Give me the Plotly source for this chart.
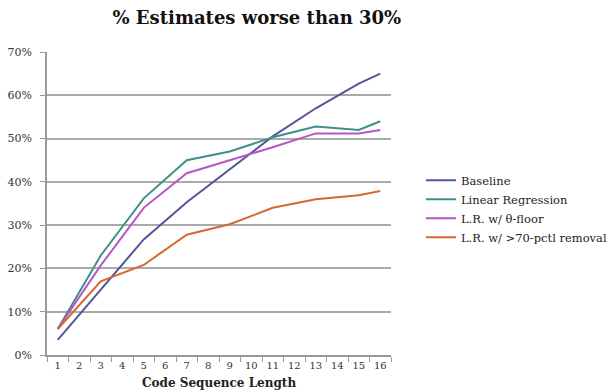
import plotly.graph_objects as go

categories = [str(i) for i in range(1, 17)]
x_points = ["1", "3", "5", "7", "9", "11", "13", "15", "16"]

baseline = [0.035, 0.152, 0.267, 0.353, 0.43, 0.505, 0.57, 0.627, 0.65]
linear_regression = [0.06, 0.23, 0.362, 0.45, 0.47, 0.503, 0.528, 0.52, 0.54]
theta_floor = [0.06, 0.207, 0.34, 0.42, 0.45, 0.48, 0.512, 0.512, 0.52]
pctl_removal = [0.06, 0.17, 0.208, 0.278, 0.302, 0.34, 0.36, 0.369, 0.379]

series = [
    ("Baseline", baseline, "#55559a"),
    ("Linear Regression", linear_regression, "#3f8f8a"),
    ("L.R. w/ θ-floor", theta_floor, "#b556c6"),
    ("L.R. w/ >70-pctl removal", pctl_removal, "#d3692f"),
]

FONT = "Georgia, 'DejaVu Serif', serif"

fig = go.Figure()
for name, vals, color in series:
    fig.add_trace(go.Scatter(x=x_points, y=vals, mode="lines", name=name,
                             line=dict(color=color, width=2)))

fig.update_layout(
    width=608, height=392,
    margin=dict(l=47, r=217, t=52, b=37, autoexpand=False),
    paper_bgcolor="white", plot_bgcolor="white",
    font=dict(family=FONT, size=11, color="#404040"),
    title=dict(text="<b>% Estimates worse than 30%</b>", x=0.61, xref="paper",
               xanchor="center", y=0.955, yanchor="middle",
               font=dict(family=FONT, size=18, color="#111111")),
    legend=dict(x=1.087, xanchor="left", y=0.625, yanchor="top",
                font=dict(family=FONT, size=11.5, color="#222222"),
                itemwidth=30, bgcolor="rgba(0,0,0,0)"),
    showlegend=True,
    annotations=[dict(text="<b>Code Sequence Length</b>", xref="paper", yref="paper",
                      x=0.5, y=-0.092, xanchor="center", yanchor="middle",
                      showarrow=False,
                      font=dict(family=FONT, size=12, color="#222222"))],
)
fig.update_xaxes(
    type="category", categoryorder="array", categoryarray=categories,
    range=[-0.5, 15.5], tickson="boundaries", ticks="outside", ticklen=5,
    tickcolor="#999999", showline=True, linecolor="#999999", linewidth=1.5,
    showgrid=False, tickangle=0, automargin=False,
    tickfont=dict(family=FONT, size=10, color="#333333"),
)
fig.update_yaxes(
    range=[0, 0.7], dtick=0.1, tickformat=".0%", ticks="outside", ticklen=5,
    tickcolor="#999999", showline=True, linecolor="#999999", linewidth=1.5,
    showgrid=True, gridcolor="#aaaaaa", gridwidth=1.5, zeroline=False,
    ticklabelstandoff=6, automargin=False,
    tickfont=dict(family=FONT, size=11, color="#333333"),
)

fig.write_html(
    "out.html",
    config={"displayModeBar": False},
    post_script="document.body.style.margin='0';document.body.style.overflow='hidden';",
)
